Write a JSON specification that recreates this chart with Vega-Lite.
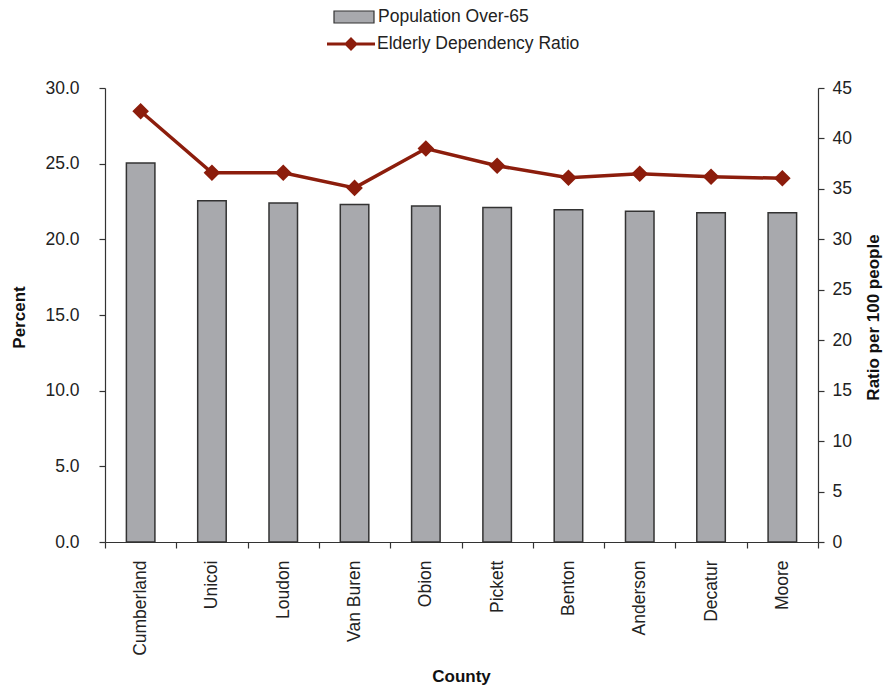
{
  "$schema": "https://vega.github.io/schema/vega-lite/v6.json",
  "autosize": "none",
  "width": 713,
  "height": 454,
  "padding": {"left": 105, "top": 88, "right": 65, "bottom": 146},
  "background": "white",
  "config": {
    "font": "Liberation Sans",
    "view": {"stroke": null},
    "axis": {
      "grid": false,
      "domainColor": "#333333",
      "tickColor": "#333333",
      "domainWidth": 1.2,
      "tickWidth": 1.2,
      "tickSize": 6,
      "labelFont": "Liberation Sans",
      "labelFontSize": 17.5,
      "labelColor": "#222222",
      "titleFont": "Liberation Sans",
      "titleFontSize": 17,
      "titleFontWeight": "bold",
      "titleColor": "#111111"
    },
    "legend": {
      "labelFont": "Liberation Sans",
      "labelFontSize": 17.5,
      "labelColor": "#222222",
      "labelLimit": 0,
      "padding": 0,
      "title": null
    }
  },
  "data": {
    "values": [
      {"county": "Cumberland", "pct": 25.05, "ratio": 42.7},
      {"county": "Unicoi", "pct": 22.55, "ratio": 36.6},
      {"county": "Loudon", "pct": 22.4, "ratio": 36.6},
      {"county": "Van Buren", "pct": 22.3, "ratio": 35.1},
      {"county": "Obion", "pct": 22.2, "ratio": 39.0},
      {"county": "Pickett", "pct": 22.1, "ratio": 37.3},
      {"county": "Benton", "pct": 21.95, "ratio": 36.1},
      {"county": "Anderson", "pct": 21.85, "ratio": 36.5},
      {"county": "Decatur", "pct": 21.75, "ratio": 36.2},
      {"county": "Moore", "pct": 21.75, "ratio": 36.05}
    ]
  },
  "encoding": {
    "x": {
      "field": "county",
      "type": "nominal",
      "sort": null,
      "scale": {"paddingInner": 0, "paddingOuter": 0},
      "axis": {
        "title": "County",
        "labelAngle": -90,
        "labelAlign": "right",
        "labelBaseline": "middle",
        "labelPadding": 12,
        "tickBand": "extent",
        "titleX": 356,
        "titleY": 134,
        "titleBaseline": "middle",
        "titleAlign": "center"
      }
    }
  },
  "layer": [
    {
      "mark": {"type": "bar", "width": {"band": 0.4}, "stroke": "#333333", "strokeWidth": 1.5},
      "encoding": {
        "y": {
          "field": "pct",
          "type": "quantitative",
          "scale": {"domain": [0, 30], "nice": false},
          "axis": {
            "title": "Percent",
            "values": [0, 5, 10, 15, 20, 25, 30],
            "format": ".1f",
            "labelPadding": 20,
            "titleAngle": -90,
            "titleX": -86,
            "titleY": 229,
            "titleAlign": "center",
            "titleBaseline": "middle"
          }
        },
        "fill": {
          "datum": "Population Over-65",
          "type": "nominal",
          "scale": {"domain": ["Population Over-65"], "range": ["#a8a9ad"]},
          "legend": {
            "orient": "none",
            "legendX": 228,
            "legendY": -92,
            "symbolType": "M-1,-0.3H1V0.3H-1Z",
            "symbolSize": 1600,
            "symbolStrokeColor": "#333333",
            "symbolStrokeWidth": 1.2,
            "symbolOpacity": 1,
            "labelOffset": 3
          }
        }
      }
    },
    {
      "mark": {
        "type": "line",
        "strokeWidth": 3.5,
        "point": {"shape": "diamond", "size": 190, "filled": true, "color": "#8c1d0c", "opacity": 1}
      },
      "encoding": {
        "y": {
          "field": "ratio",
          "type": "quantitative",
          "scale": {"domain": [0, 45], "nice": false},
          "axis": {
            "orient": "right",
            "title": "Ratio per 100 people",
            "values": [0, 5, 10, 15, 20, 25, 30, 35, 40, 45],
            "labelPadding": 8,
            "titleAngle": -90,
            "titleX": 55,
            "titleY": 229,
            "titleAlign": "center",
            "titleBaseline": "middle"
          }
        },
        "stroke": {
          "datum": "Elderly Dependency Ratio",
          "type": "nominal",
          "scale": {"domain": ["Elderly Dependency Ratio"], "range": ["#8c1d0c"]},
          "legend": {
            "orient": "none",
            "legendX": 222,
            "legendY": -68,
            "symbolType": "M-1,-0.0625H-0.2275L0,-0.29L0.2275,-0.0625H1V0.0625H0.2275L0,0.29L-0.2275,0.0625H-1Z",
            "symbolSize": 2304,
            "symbolFillColor": "#8c1d0c",
            "symbolStrokeWidth": 0,
            "labelOffset": 2
          }
        }
      }
    }
  ],
  "resolve": {"scale": {"y": "independent"}}
}
